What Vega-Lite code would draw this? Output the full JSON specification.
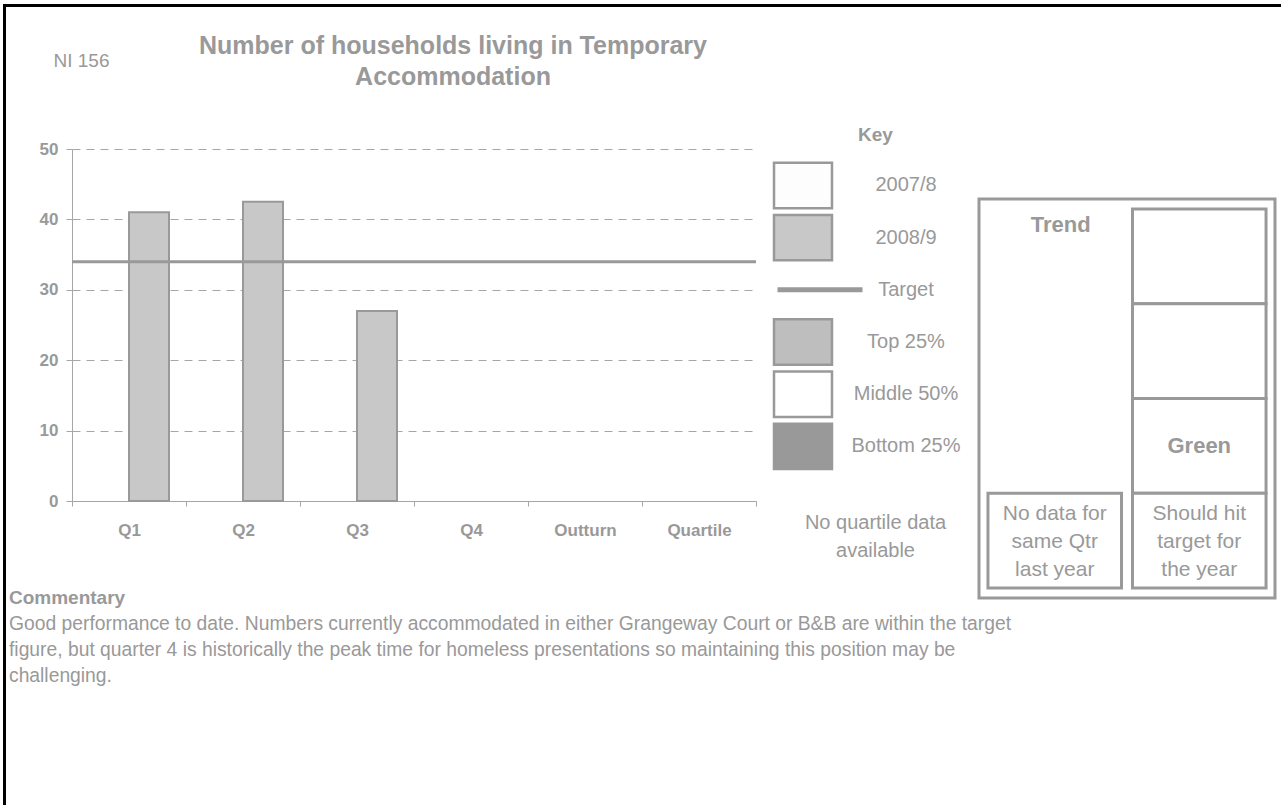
{
  "$schema": "https://vega.github.io/schema/vega-lite/v6.json",
  "background": "white",
  "padding": {"left": 3, "top": 4, "right": 0, "bottom": 0},
  "config": {
    "font": "Liberation Sans",
    "view": {"stroke": null},
    "axis": {"labelFont": "Liberation Sans", "titleFont": "Liberation Sans"},
    "title": {"font": "Liberation Sans", "subtitleFont": "Liberation Sans"}
  },
  "spacing": 0,
  "vconcat": [
    {
      "width": 1278, "height": 3,
      "view": {"fill": "#000000", "stroke": null},
      "data": {"values": []},
      "mark": "point",
      "encoding": {}
    },
    {
      "spacing": 0,
      "hconcat": [
        {
          "width": 3, "height": 798,
          "view": {"fill": "#000000", "stroke": null},
          "data": {"values": []},
          "mark": "point",
          "encoding": {}
        },
        {
          "spacing": 0,
          "vconcat": [
            {
              "width": 1, "height": 27,
              "data": {"values": []},
              "mark": "point",
              "encoding": {}
            },
            {
              "spacing": -12,
              "vconcat": [
                {
                  "spacing": 14,
                  "hconcat": [
                    {
                      "width": 19, "height": 1,
                      "data": {"values": []},
                      "mark": "point",
                      "encoding": {}
                    },
                    {
                      "width": 684, "height": 352,
                      "title": {
                        "text": ["Number of households living in Temporary", "Accommodation"],
                        "fontSize": 25, "fontWeight": "bold", "color": "#999999",
                        "lineHeight": 31, "anchor": "middle", "frame": "group",
                        "dx": 39, "offset": -39
                      },
                      "layer": [
                        {
                          "data": {"values": [
                            {"quarter": "Q1", "series": "2008/9", "value": 41},
                            {"quarter": "Q2", "series": "2008/9", "value": 42.5},
                            {"quarter": "Q3", "series": "2008/9", "value": 27}
                          ]},
                          "mark": {"type": "bar", "fill": "#c8c8c8", "stroke": "#999999", "strokeWidth": 2},
                          "encoding": {
                            "x": {
                              "field": "quarter", "type": "nominal",
                              "scale": {"domain": ["Q1", "Q2", "Q3", "Q4", "Outturn", "Quartile"], "paddingInner": 0, "paddingOuter": 0},
                              "axis": {
                                "title": null, "labelAngle": 0, "tickBand": "extent",
                                "labelFontSize": 17, "labelFontWeight": "bold", "labelColor": "#999999",
                                "labelPadding": 16, "tickSize": 5, "tickColor": "#a6a6a6",
                                "domainColor": "#a6a6a6", "grid": false
                              }
                            },
                            "xOffset": {
                              "field": "series", "type": "nominal",
                              "scale": {"domain": ["2007/8", "2008/9"], "paddingInner": 0, "paddingOuter": 0.425}
                            },
                            "y": {
                              "field": "value", "type": "quantitative", "title": "NI 156",
                              "scale": {"domain": [0, 50], "nice": false},
                              "axis": {
                                "values": [0, 10, 20, 30, 40, 50],
                                "labelFontSize": 17, "labelFontWeight": "bold", "labelColor": "#999999",
                                "labelPadding": 8, "tickSize": 6, "tickColor": "#a6a6a6",
                                "domainColor": "#a6a6a6",
                                "grid": true, "gridDash": [8, 6], "gridColor": "#a6a6a6",
                                "titleAngle": 0, "titleAlign": "left", "titleBaseline": "middle",
                                "titleX": -19, "titleY": -89, "titleFontSize": 19,
                                "titleFontWeight": "normal", "titleColor": "#999999"
                              }
                            }
                          }
                        },
                        {
                          "data": {"values": [{"series": "Target", "value": 34}]},
                          "mark": {"type": "rule", "stroke": "#999999", "strokeWidth": 3},
                          "encoding": {
                            "y": {"field": "value", "type": "quantitative", "title": "NI 156"}
                          }
                        }
                      ]
                    },
                    {
                      "width": 189, "height": 386,
                      "title": {
                        "text": "Key", "fontSize": 19, "fontWeight": "bold", "color": "#999999",
                        "anchor": "middle", "frame": "group", "offset": 4, "dx": 7
                      },
                      "data": {"values": [
                        {"item": "2007/8", "kind": "box"},
                        {"item": "2008/9", "kind": "box"},
                        {"item": "Target", "kind": "line"},
                        {"item": "Top 25%", "kind": "box"},
                        {"item": "Middle 50%", "kind": "box"},
                        {"item": "Bottom 25%", "kind": "box"},
                        {"item": "No quartile data|available", "kind": "note"}
                      ]},
                      "encoding": {
                        "y": {
                          "field": "item", "type": "nominal", "axis": null,
                          "scale": {
                            "domain": ["2007/8", "2008/9", "Target", "Top 25%", "Middle 50%", "Bottom 25%", "No quartile data|available"],
                            "paddingInner": 0.13, "paddingOuter": 0.263
                          }
                        }
                      },
                      "layer": [
                        {
                          "transform": [{"filter": "datum.kind == 'box'"}],
                          "mark": {"type": "rect", "stroke": "#999999", "strokeWidth": 2.5},
                          "encoding": {
                            "x": {
                              "datum": "swatch", "type": "nominal", "axis": null,
                              "scale": {"domain": ["swatch", "label"], "paddingInner": 0.437, "paddingOuter": 0.136, "align": 0}
                            },
                            "fill": {
                              "field": "item", "type": "nominal", "legend": null,
                              "scale": {
                                "domain": ["2007/8", "2008/9", "Top 25%", "Middle 50%", "Bottom 25%"],
                                "range": ["#fdfdfd", "#c8c8c8", "#bebebe", "#ffffff", "#999999"]
                              }
                            }
                          }
                        },
                        {
                          "transform": [{"filter": "datum.kind == 'line'"}],
                          "mark": {"type": "rect", "fill": "#999999", "width": 85, "height": 5, "xOffset": 17},
                          "encoding": {
                            "x": {"datum": "swatch", "type": "nominal", "axis": null}
                          }
                        },
                        {
                          "transform": [{"filter": "datum.kind != 'note'"}],
                          "mark": {"type": "text", "fontSize": 20, "color": "#999999"},
                          "encoding": {
                            "x": {"datum": "label", "type": "nominal", "axis": null},
                            "text": {"field": "item", "type": "nominal"}
                          }
                        },
                        {
                          "transform": [{"filter": "datum.kind == 'note'"}],
                          "mark": {"type": "text", "fontSize": 20, "color": "#999999", "lineBreak": "|", "lineHeight": 28, "dy": 24, "dx": 7},
                          "encoding": {
                            "text": {"field": "item", "type": "nominal"}
                          }
                        }
                      ]
                    },
                    {
                      "spacing": 0,
                      "vconcat": [
                        {
                          "width": 1, "height": 48,
                          "data": {"values": []},
                          "mark": "point",
                          "encoding": {}
                        },
                        {
                          "width": 296, "height": 399,
                          "view": {"stroke": "#999999", "strokeWidth": 3, "fill": "#ffffff"},
                          "data": {"values": [
                            {"col": "Trend", "row": "r4", "kind": "cell", "text": "No data for|same Qtr|last year"},
                            {"col": "Target", "row": "r1", "kind": "cell", "text": ""},
                            {"col": "Target", "row": "r2", "kind": "cell", "text": ""},
                            {"col": "Target", "row": "r3", "kind": "cell", "text": ""},
                            {"col": "Target", "row": "r4", "kind": "cell", "text": "Should hit|target for|the year"},
                            {"col": "Target", "row": "r3", "kind": "status", "text": "Green"},
                            {"col": "Trend", "row": "r1", "kind": "head", "text": "Trend"}
                          ]},
                          "encoding": {
                            "x": {
                              "field": "col", "type": "nominal", "axis": null,
                              "scale": {"domain": ["Trend", "Target"], "paddingInner": 0.076, "paddingOuter": 0.062}
                            }
                          },
                          "layer": [
                            {
                              "transform": [{"filter": "datum.kind == 'cell'"}],
                              "mark": {"type": "rect", "fill": "#ffffff", "stroke": "#999999", "strokeWidth": 3},
                              "encoding": {
                                "y": {
                                  "field": "row", "type": "nominal", "axis": null,
                                  "scale": {"domain": ["r1", "r2", "r3", "r4"], "paddingInner": 0, "paddingOuter": 0.1055}
                                }
                              }
                            },
                            {
                              "transform": [{"filter": "datum.kind == 'cell' && datum.text != ''"}],
                              "mark": {"type": "text", "fontSize": 21, "color": "#999999", "lineBreak": "|", "lineHeight": 28, "dy": -27},
                              "encoding": {
                                "y": {"field": "row", "type": "nominal", "axis": null},
                                "text": {"field": "text", "type": "nominal"}
                              }
                            },
                            {
                              "transform": [{"filter": "datum.kind == 'status'"}],
                              "mark": {"type": "text", "fontSize": 22, "fontWeight": "bold", "color": "#999999"},
                              "encoding": {
                                "y": {"field": "row", "type": "nominal", "axis": null},
                                "text": {"field": "text", "type": "nominal"}
                              }
                            },
                            {
                              "transform": [{"filter": "datum.kind == 'head'"}],
                              "mark": {"type": "text", "fontSize": 22, "fontWeight": "bold", "color": "#999999", "baseline": "top", "dy": 6, "dx": 6},
                              "encoding": {
                                "y": {"field": "row", "type": "nominal", "axis": null, "bandPosition": 0},
                                "text": {"field": "text", "type": "nominal"}
                              }
                            }
                          ]
                        }
                      ]
                    }
                  ]
                },
                {
                  "width": 1275, "height": 100,
                  "title": {
                    "text": "Commentary",
                    "subtitle": [
                      "Good performance to date. Numbers currently accommodated in either Grangeway Court or B&B are within the target",
                      "figure, but quarter 4 is historically the peak time for homeless presentations so maintaining this position may be",
                      "challenging."
                    ],
                    "anchor": "start", "frame": "group",
                    "fontSize": 19, "fontWeight": "bold", "color": "#999999",
                    "subtitleFontSize": 19.3, "subtitleColor": "#999999", "subtitleLineHeight": 26,
                    "subtitlePadding": 7, "offset": 4, "dx": 3
                  },
                  "data": {"values": []},
                  "mark": "point",
                  "encoding": {}
                }
              ]
            }
          ]
        }
      ]
    }
  ]
}
